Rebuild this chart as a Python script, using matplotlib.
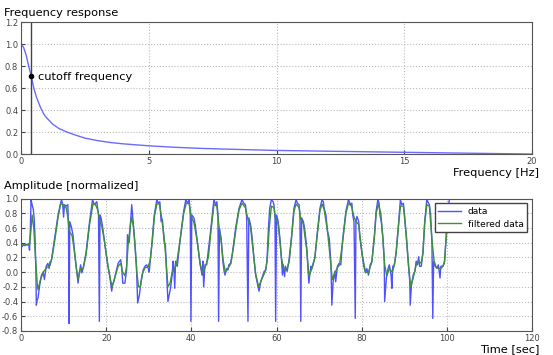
import matplotlib
matplotlib.use("Agg")
import matplotlib.pyplot as plt

# frequency response
freq = [0, 0.1, 0.2, 0.3, 0.4, 0.5, 0.6, 0.75, 0.9, 1.0, 1.25, 1.5, 1.8, 2.1, 2.5,
        3.0, 3.5, 4.0, 5.0, 6.0, 7.0, 8.0, 10.0, 12.0, 15.0, 17.5, 20.0]
gain = [1.0, 0.97, 0.90, 0.80, 0.707, 0.60, 0.52, 0.43, 0.36, 0.33, 0.27, 0.23, 0.20, 0.175, 0.145,
        0.122, 0.105, 0.093, 0.075, 0.062, 0.052, 0.045, 0.033, 0.026, 0.016, 0.008, 0.0]
cutoff = 0.4
cutoff_gain = 0.707

# raw signal (time, value)
t_data = [0.0, 0.3, 0.6, 0.9, 1.2, 1.5, 1.8, 2.0, 2.2, 2.35, 2.6, 2.9, 3.1, 3.3, 3.5, 3.6, 3.8, 4.0,
          4.4, 4.8, 5.2, 5.5, 5.9, 6.3, 6.6, 6.8, 7.1, 7.9, 8.7, 9.5, 9.8, 10.0, 10.2, 10.6, 11.0,
          11.15, 11.3, 11.45, 11.8, 12.2, 12.6, 13.0, 13.4, 13.6, 14.0, 14.3, 14.7, 15.3, 16.1, 16.8,
          17.2, 17.8, 18.2, 18.4, 18.55, 18.8, 19.2, 19.6, 20.0, 20.4, 20.9, 21.3, 21.5, 21.8, 22.3,
          22.8, 23.4, 23.6, 23.9, 24.4, 24.8, 25.0, 25.4, 25.7, 26.0, 26.3, 26.7, 27.1, 27.4, 27.8,
          28.2, 28.7, 29.1, 29.5, 29.9, 30.1, 30.7, 31.3, 31.9, 32.2, 32.6, 32.9, 33.2, 33.6, 33.9,
          34.2, 34.5, 35.1, 35.5, 35.7, 35.9, 36.1, 36.3, 36.7, 37.4, 38.2, 38.7, 39.1, 39.5, 39.75,
          39.9, 40.1, 40.6, 40.9, 41.3, 41.7, 42.1, 42.5, 42.7, 42.9, 43.2, 43.6, 44.5, 45.3, 45.7,
          46.0, 46.25, 46.4, 46.6, 47.0, 47.4, 47.7, 47.9, 48.3, 48.6, 48.8, 49.2, 49.6, 50.0, 50.4,
          51.2, 51.9, 52.3, 52.7, 53.0, 53.3, 53.5, 53.9, 54.3, 54.7, 55.1, 55.5, 55.9, 56.3, 56.7,
          57.1, 57.5, 57.8, 58.1, 58.4, 58.8, 59.2, 59.4, 59.65, 59.8, 60.0, 60.4, 60.8, 61.2, 61.4,
          61.6, 61.9, 62.1, 62.5, 62.9, 63.5, 64.1, 64.6, 64.9, 65.3, 65.5, 65.7, 65.9, 66.3, 66.6,
          67.1, 67.4, 67.6, 67.9, 68.1, 68.3, 68.6, 69.0, 69.6, 70.2, 70.7, 71.0, 71.2, 71.6, 72.0,
          72.4, 72.8, 73.0, 73.3, 73.7, 73.9, 74.3, 74.7, 75.1, 75.5, 76.3, 76.9, 77.4, 77.7, 77.9,
          78.2, 78.5, 78.65, 78.9, 79.3, 79.6, 80.1, 80.5, 80.9, 81.2, 81.6, 82.0, 82.4, 83.0, 83.4,
          83.8, 84.1, 84.3, 84.6, 85.0, 85.3, 85.4, 85.8, 86.2, 86.5, 86.9, 87.1, 87.3, 87.7, 88.1,
          88.7, 89.1, 89.4, 89.8, 90.0, 90.5, 90.9, 91.3, 91.4, 91.7, 92.1, 92.5, 92.8, 93.1, 93.4,
          93.6, 94.0, 94.4, 94.8, 95.3, 95.7, 95.9, 96.2, 96.5, 96.7, 96.9, 97.3, 97.7, 98.0, 98.4,
          98.6, 99.1, 99.5, 99.9, 100.3, 100.6, 100.9]
y_data = [0.37, 0.35, 0.38, 0.36, 0.38, 0.37, 0.39, 0.30, 0.60, 0.99, 0.92, 0.85, 0.72, 0.46, 0.0, -0.45, -0.38, -0.35,
          -0.17, -0.04, 0.0, -0.10, 0.08, 0.12, 0.05, 0.14, 0.15, 0.46, 0.78, 0.99, 0.92, 0.75, 0.92, 0.90, 0.92,
          0.60, -0.70, 0.69, 0.62, 0.51, 0.26, 0.05, -0.15, -0.04, 0.10, -0.01, 0.08, 0.28, 0.69, 0.99,
          0.92, 0.96, 0.78, -0.67, 0.78, 0.74, 0.60, 0.42, 0.24, 0.08, -0.08, -0.26, -0.17, -0.13, 0.0,
          0.12, 0.17, 0.10, -0.15, -0.15, 0.03, 0.51, 0.40, 0.65, 0.92, 0.71, 0.42, 0.08, -0.42, -0.31,
          -0.13, 0.03, 0.08, 0.10, 0.05, 0.0, 0.37, 0.78, 0.99, 0.94, 0.96, 0.69, 0.72, 0.42, 0.37,
          0.0, -0.40, -0.22, -0.04, 0.15, 0.05, -0.22, 0.15, 0.08, 0.46, 0.83, 0.99, 0.94, 0.99, 0.78,
          -0.67, 0.78, 0.74, 0.65, 0.46, 0.28, 0.10, -0.04, 0.15, -0.20, 0.10, 0.10, 0.55, 0.99, 0.92,
          0.96, 0.78, -0.67, 0.60, 0.46, 0.15, 0.01, -0.04, 0.05, 0.03, 0.10, 0.12, 0.24, 0.42, 0.60,
          0.87, 0.99, 0.94, 0.92, 0.74, -0.67, 0.74, 0.65, 0.46, 0.19, -0.04, -0.15, -0.26, -0.13, -0.06,
          0.01, 0.03, 0.19, 0.60, 0.87, 0.99, 0.96, 0.92, 0.74, -0.67, 0.78, 0.69, 0.46, 0.15, -0.04,
          0.10, -0.06, 0.08, 0.01, 0.15, 0.46, 0.87, 0.99, 0.94, 0.92, 0.78, -0.67, 0.74, 0.69, 0.60,
          0.33, 0.05, -0.15, 0.01, 0.08, 0.05, 0.12, 0.19, 0.55, 0.87, 0.99, 0.96, 0.87, 0.78, 0.55,
          0.46, 0.10, -0.45, -0.13, 0.01, -0.13, 0.08, 0.12, 0.10, 0.42, 0.83, 0.99, 0.92, 0.94, 0.78,
          0.69, -0.63, 0.69, 0.76, 0.69, 0.46, 0.24, 0.08, -0.01, 0.05, -0.04, 0.10, 0.15, 0.51, 0.83,
          0.99, 0.94, 0.78, 0.69, 0.46, 0.15, -0.40, -0.08, 0.05, 0.10, -0.04, -0.22, 0.08, 0.10, 0.28,
          0.69, 0.99, 0.92, 0.94, 0.83, 0.46, 0.15, -0.13, -0.45, -0.17, -0.04, 0.01, 0.15, 0.10, 0.21,
          0.08, 0.08, 0.28, 0.69, 0.99, 0.94, 0.92, 0.78, 0.42, -0.63, 0.15, 0.08, 0.05, 0.10, -0.08,
          0.08, 0.08, 0.15, 0.55, 0.87, 0.99, 1.0]

# filtered signal (time, value)
t_filt = [0, 1, 2, 2.3, 2.6, 3.0, 3.4, 3.8, 4.0, 4.5, 5.2, 6.0, 6.8, 7.3, 8.0, 8.7, 9.3, 10.0, 10.6, 11.0,
          11.4, 12.0, 12.5, 13.0, 13.4, 14.0, 14.6, 15.3, 16.1, 16.9, 17.5, 18.0, 18.5, 19.0, 19.6, 20.4,
          21.0, 21.4, 22.0, 22.8, 23.4, 23.9, 24.4, 24.8, 25.2, 25.7, 26.0, 26.4, 26.8, 27.2, 27.6, 28.0,
          28.5, 29.1, 29.8, 30.3, 30.8, 31.3, 31.9, 32.5, 33.0, 33.6, 34.0, 34.5, 35.0, 35.5, 36.0, 36.5,
          37.4, 38.2, 38.8, 39.5, 40.0, 40.6, 41.3, 42.1, 42.7, 43.3, 44.0, 44.5, 45.3, 46.0, 46.5, 47.0,
          47.5, 48.0, 48.8, 49.3, 50.0, 50.5, 51.2, 51.9, 52.7, 53.3, 53.9, 54.7, 55.1, 55.8, 56.5, 57.3,
          57.8, 58.3, 58.8, 59.4, 59.8, 60.4, 61.2, 61.8, 62.5, 63.0, 63.5, 64.1, 64.6, 65.3, 65.7, 66.3,
          67.1, 67.6, 68.0, 68.6, 69.0, 69.6, 70.2, 70.7, 71.2, 72.0, 72.6, 73.1, 73.6, 74.3, 74.8, 75.5,
          76.3, 76.9, 77.6, 78.2, 78.8, 79.3, 80.1, 80.9, 81.6, 82.4, 83.0, 83.4, 83.9, 84.5, 85.0, 85.4,
          85.9, 86.5, 87.2, 87.6, 88.1, 88.7, 89.1, 89.8, 90.5, 91.0, 91.5, 92.1, 92.8, 93.4, 94.0, 94.4,
          94.8, 95.3, 95.9, 96.5, 97.0, 97.5, 98.2, 98.8, 99.4, 99.9, 100.3, 100.8]
y_filt = [0.37, 0.37, 0.38, 0.55, 0.78, 0.60, 0.20, -0.15, -0.24, -0.12, 0.0, 0.06, 0.09, 0.20, 0.46, 0.75, 0.93, 0.92, 0.88, 0.75,
          0.55, 0.50, 0.30, 0.05, -0.10, 0.05, 0.05, 0.25, 0.65, 0.93, 0.92, 0.85, 0.70, 0.62, 0.42, 0.10,
          -0.10, -0.20, -0.08, 0.08, 0.12, 0.0, -0.05, 0.08, 0.40, 0.65, 0.75, 0.62, 0.35, 0.0, -0.20, -0.20,
          -0.02, 0.06, 0.07, 0.15, 0.40, 0.75, 0.93, 0.93, 0.75, 0.48, 0.20, -0.20, -0.15, 0.0, 0.05, 0.10,
          0.45, 0.80, 0.94, 0.93, 0.75, 0.68, 0.45, 0.10, -0.02, 0.08, 0.20, 0.50, 0.92, 0.90, 0.62, 0.42,
          0.15, 0.0, 0.07, 0.12, 0.38, 0.60, 0.85, 0.94, 0.88, 0.72, 0.62, 0.20, -0.02, -0.20, -0.10, 0.0,
          0.15, 0.60, 0.90, 0.88, 0.72, 0.66, 0.18, 0.02, 0.05, 0.15, 0.45, 0.83, 0.93, 0.88, 0.72, 0.66,
          0.30, -0.05, 0.0, 0.10, 0.20, 0.52, 0.84, 0.93, 0.85, 0.55, 0.20, -0.10, -0.02, 0.06, 0.10, 0.40,
          0.80, 0.94, 0.90, 0.75, 0.68, 0.65, 0.25, 0.0, 0.0, 0.14, 0.48, 0.80, 0.93, 0.80, 0.45, 0.10,
          -0.05, 0.05, 0.0, 0.08, 0.26, 0.66, 0.90, 0.90, 0.50, 0.10, -0.20, -0.08, 0.10, 0.15, 0.12, 0.26,
          0.66, 0.92, 0.90, 0.45, 0.15, 0.07, 0.05, 0.06, 0.12, 0.50, 0.80, 0.90]

plt.rcParams['font.family'] = 'DejaVu Sans'
fig = plt.figure(figsize=(5.53, 3.55), dpi=100)
ax1 = fig.add_axes([0.038, 0.566, 0.924, 0.372])
ax2 = fig.add_axes([0.038, 0.068, 0.924, 0.372])

ax1.plot(freq, gain, color='#6a6aff', lw=1)
ax1.axvline(cutoff, color='#444444', lw=1)
ax1.plot(cutoff, cutoff_gain, 'ko', ms=3)
ax1.annotate('cutoff frequency', (cutoff, cutoff_gain), xytext=(5, -3),
             textcoords='offset points', fontsize=8.2)
ax1.set_xlim(0, 20)
ax1.set_ylim(0, 1.2)
ax1.set_xticks([0, 5, 10, 15, 20])
ax1.set_yticks([0.0, 0.2, 0.4, 0.6, 0.8, 1.0, 1.2])

ax2.plot(t_data, y_data, color='#3333ff', lw=1, alpha=0.85, label='data')
ax2.plot(t_filt, y_filt, color='#3d8f3d', lw=1, label='filtered data')
ax2.set_xlim(0, 120)
ax2.set_ylim(-0.8, 1.0)
ax2.set_xticks(range(0, 121, 20))
ax2.set_yticks([-0.8, -0.6, -0.4, -0.2, 0.0, 0.2, 0.4, 0.6, 0.8, 1.0])
ax2.legend(loc='upper right', fontsize=6.5, fancybox=False, edgecolor='#444444',
           framealpha=1, borderpad=0.4, handlelength=2.5, labelspacing=0.4)

for ax in (ax1, ax2):
    ax.grid(True, color='#bbbbbb', ls=':', lw=0.8)
    ax.tick_params(direction='in', labelsize=6, colors='#444444', length=3, pad=2)
    for sp in ax.spines.values():
        sp.set_color('#555555')
    ax.set_yticklabels(['%.1f' % v for v in ax.get_yticks()])

fig.text(0.008, 0.962, 'Frequency response', fontsize=8.2, va='center')
fig.text(0.975, 0.513, 'Frequency [Hz]', fontsize=8.2, va='center', ha='right')
fig.text(0.008, 0.476, 'Amplitude [normalized]', fontsize=8.2, va='center')
fig.text(0.975, 0.016, 'Time [sec]', fontsize=8.2, va='center', ha='right')

fig.savefig('out.png', dpi=100)
